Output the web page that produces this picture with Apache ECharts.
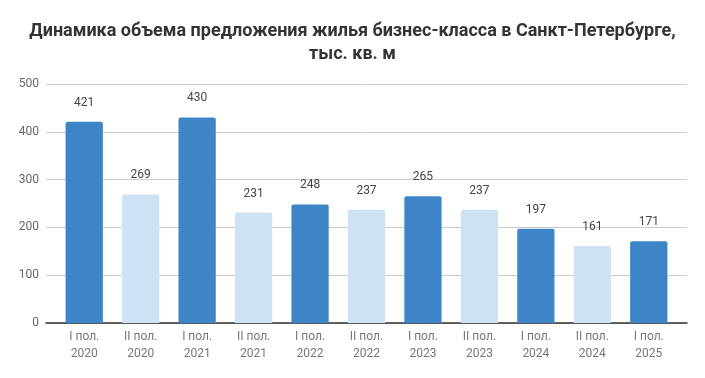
<!DOCTYPE html>
<html lang="ru">
<head>
    <meta charset="UTF-8">
    <title>Бизнес-класс</title>
    <script src="https://cdn.jsdelivr.net/npm/echarts@6/dist/echarts.min.js"></script>
    <style>
        html, body { margin: 0; padding: 0; background: #fff; }
    </style>
</head>
<body>
    <div id="main" style="width: 705px; height: 378px;"></div>
    <script>
        // категории по полугодиям
        const categories = [
            'I пол.\n2020', 'II пол.\n2020', 'I пол.\n2021', 'II пол.\n2021',
            'I пол.\n2022', 'II пол.\n2022', 'I пол.\n2023', 'II пол.\n2023',
            'I пол.\n2024', 'II пол.\n2024', 'I пол.\n2025'
        ];
        const values = [421, 269, 430, 231, 248, 237, 265, 237, 197, 161, 171];
        const yTicks = [0, 100, 200, 300, 400, 500];

        const darkBlue = '#3d85c6';
        const lightBlue = '#cfe2f3';

        var myChart = echarts.init(document.getElementById('main'));

        // grid 0 - оси и сетка (чуть шире), grid 1 - столбцы
        let option = {
            backgroundColor: '#fff',
            title: {
                text: 'Динамика объема предложения жилья бизнес-класса в Санкт-Петербурге,\nтыс. кв. м',
                left: 'center',
                top: 15,
                textStyle: {
                    fontFamily: 'Roboto',
                    fontSize: 18,
                    fontWeight: 'bold',
                    color: '#333',
                    lineHeight: 23
                }
            },
            grid: [
                { left: 46, right: 18, top: 84, bottom: 55 },
                { left: 56, right: 28, top: 84, bottom: 55 }
            ],
            xAxis: [
                {
                    type: 'value',
                    gridIndex: 0,
                    min: 0,
                    max: 1,
                    axisLine: { show: true, onZero: false, lineStyle: { color: '#333', width: 1.5 } },
                    axisTick: { show: false },
                    axisLabel: { show: false },
                    splitLine: { show: false }
                },
                {
                    type: 'category',
                    gridIndex: 1,
                    data: categories,
                    axisLine: { show: false },
                    axisTick: { show: false },
                    axisLabel: {
                        color: '#777',
                        fontFamily: 'Roboto',
                        fontSize: 12,
                        lineHeight: 17,
                        margin: 5,
                        interval: 0
                    }
                }
            ],
            yAxis: [
                {
                    type: 'value',
                    gridIndex: 0,
                    min: yTicks[0],
                    max: yTicks[yTicks.length - 1],
                    interval: 100,
                    axisLine: { show: false },
                    axisTick: { show: false },
                    axisLabel: {
                        color: '#666',
                        fontFamily: 'Roboto',
                        fontSize: 12,
                        margin: 7
                    },
                    splitLine: { lineStyle: { color: '#ccc' } }
                },
                {
                    type: 'value',
                    gridIndex: 1,
                    min: yTicks[0],
                    max: yTicks[yTicks.length - 1],
                    interval: 100,
                    show: false
                }
            ],
            series: [
                {
                    type: 'bar',
                    xAxisIndex: 1,
                    yAxisIndex: 1,
                    barWidth: '66%',
                    data: values.map((v, i) => ({
                        value: v,
                        itemStyle: { color: i % 2 === 0 ? darkBlue : lightBlue }
                    })),
                    itemStyle: { borderRadius: [2, 2, 0, 0] },
                    label: {
                        show: true,
                        position: 'top',
                        distance: 13,
                        color: '#444',
                        fontFamily: 'Roboto',
                        fontSize: 12
                    }
                }
            ]
        };

        myChart.setOption(option);
    </script>
</body>
</html>
